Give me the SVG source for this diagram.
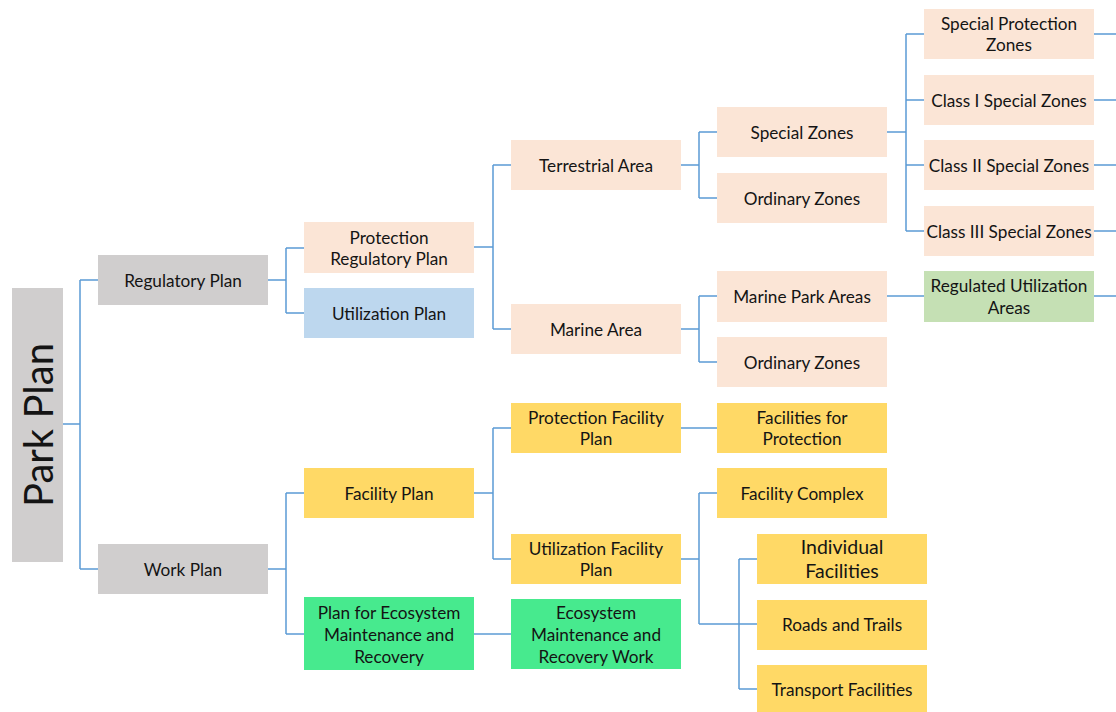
<svg xmlns="http://www.w3.org/2000/svg" width="1116" height="712" viewBox="0 0 1116 712">
<style>
.n{stroke:none}
.g{fill:#d0cece}.p{fill:#fbe5d6}.b{fill:#bdd7ee}.y{fill:#ffd966}.lg{fill:#c5e0b4}.eg{fill:#47ea8e}
text{font-family:Lato,"Liberation Sans",sans-serif;font-size:17.2px;fill:#141414;text-anchor:middle;dominant-baseline:central}
.c path{fill:none;stroke:#5b9bd5;stroke-width:1.5}
</style>
<rect width="1116" height="712" fill="#fff"/>
<g class="c" id="connectors">
<path d="M63,424H80M80,280V569M80,280H98M80,569H98"/>
<path d="M268,280H286M286,248V313M286,248H304M286,313H304"/>
<path d="M474,247H493M493,165V329M493,165H511M493,329H511"/>
<path d="M681,165H699M699,132V198M699,132H717M699,198H717"/>
<path d="M887,132H906M906,34V231M906,34H924M906,100H924M906,165H924M906,231H924"/>
<path d="M1094,34H1116M1094,100H1116M1094,165H1116M1094,231H1116M1094,296H1116"/>
<path d="M681,329H699M699,296V362M699,296H717M699,362H717"/>
<path d="M887,296H924"/>
<path d="M268,569H286M286,493V634M286,493H304M286,634H304"/>
<path d="M474,634H511"/>
<path d="M474,493H493M493,428V559M493,428H511M493,559H511"/>
<path d="M681,428H717"/>
<path d="M681,559H699M699,493V624M699,493H717M699,624H757"/>
<path d="M739,559V689M739,559H757M739,689H757"/>
</g>
<g id="park-plan"><rect class="g" x="12" y="288" width="51" height="274"/><text transform="translate(38,425) rotate(-90)" style="font-size:40px">Park Plan</text></g>
<g id="regulatory-plan"><rect class="g" x="98" y="255" width="170" height="50"/><text x="183" y="280">Regulatory Plan</text></g>
<g id="work-plan"><rect class="g" x="98" y="544" width="170" height="50"/><text x="183" y="569">Work Plan</text></g>
<g id="protection-regulatory-plan"><rect class="p" x="304" y="222" width="170" height="51"/><text x="389" y="237">Protection</text><text x="389" y="258">Regulatory Plan</text></g>
<g id="utilization-plan"><rect class="b" x="304" y="288" width="170" height="50"/><text x="389" y="313">Utilization Plan</text></g>
<g id="terrestrial-area"><rect class="p" x="511" y="140" width="170" height="50"/><text x="596" y="165">Terrestrial Area</text></g>
<g id="marine-area"><rect class="p" x="511" y="304" width="170" height="50"/><text x="596" y="329">Marine Area</text></g>
<g id="special-zones"><rect class="p" x="717" y="107" width="170" height="50"/><text x="802" y="132">Special Zones</text></g>
<g id="ordinary-zones-1"><rect class="p" x="717" y="173" width="170" height="50"/><text x="802" y="198">Ordinary Zones</text></g>
<g id="special-protection-zones"><rect class="p" x="924" y="9" width="170" height="50"/><text x="1009" y="23">Special Protection</text><text x="1009" y="44">Zones</text></g>
<g id="class-i"><rect class="p" x="924" y="75" width="170" height="50"/><text x="1009" y="100">Class I Special Zones</text></g>
<g id="class-ii"><rect class="p" x="924" y="140" width="170" height="50"/><text x="1009" y="165">Class II Special Zones</text></g>
<g id="class-iii"><rect class="p" x="924" y="206" width="170" height="50"/><text x="1009" y="231">Class III Special Zones</text></g>
<g id="regulated-utilization-areas"><rect class="lg" x="924" y="271" width="170" height="51"/><text x="1009" y="285">Regulated Utilization</text><text x="1009" y="307">Areas</text></g>
<g id="marine-park-areas"><rect class="p" x="717" y="271" width="170" height="51"/><text x="802" y="296">Marine Park Areas</text></g>
<g id="ordinary-zones-2"><rect class="p" x="717" y="337" width="170" height="50"/><text x="802" y="362">Ordinary Zones</text></g>
<g id="facility-plan"><rect class="y" x="304" y="468" width="170" height="50"/><text x="389" y="493">Facility Plan</text></g>
<g id="eco-plan"><rect class="eg" x="304" y="597" width="170" height="73"/><text x="389" y="612">Plan for Ecosystem</text><text x="389" y="634">Maintenance and</text><text x="389" y="656">Recovery</text></g>
<g id="eco-work"><rect class="eg" x="511" y="599" width="170" height="70"/><text x="596" y="612">Ecosystem</text><text x="596" y="634">Maintenance and</text><text x="596" y="656">Recovery Work</text></g>
<g id="protection-facility-plan"><rect class="y" x="511" y="403" width="170" height="50"/><text x="596" y="417">Protection Facility</text><text x="596" y="438">Plan</text></g>
<g id="utilization-facility-plan"><rect class="y" x="511" y="534" width="170" height="50"/><text x="596" y="548">Utilization Facility</text><text x="596" y="569">Plan</text></g>
<g id="facilities-for-protection"><rect class="y" x="717" y="403" width="170" height="50"/><text x="802" y="417">Facilities for</text><text x="802" y="438">Protection</text></g>
<g id="facility-complex"><rect class="y" x="717" y="468" width="170" height="50"/><text x="802" y="493">Facility Complex</text></g>
<g id="individual-facilities"><rect class="y" x="757" y="534" width="170" height="50"/><text x="842" y="546" style="font-size:19.5px">Individual</text><text x="842" y="570" style="font-size:19.5px">Facilities</text></g>
<g id="roads-and-trails"><rect class="y" x="757" y="600" width="170" height="50"/><text x="842" y="624">Roads and Trails</text></g>
<g id="transport-facilities"><rect class="y" x="757" y="665" width="170" height="47"/><text x="842" y="689">Transport Facilities</text></g>
</svg>
